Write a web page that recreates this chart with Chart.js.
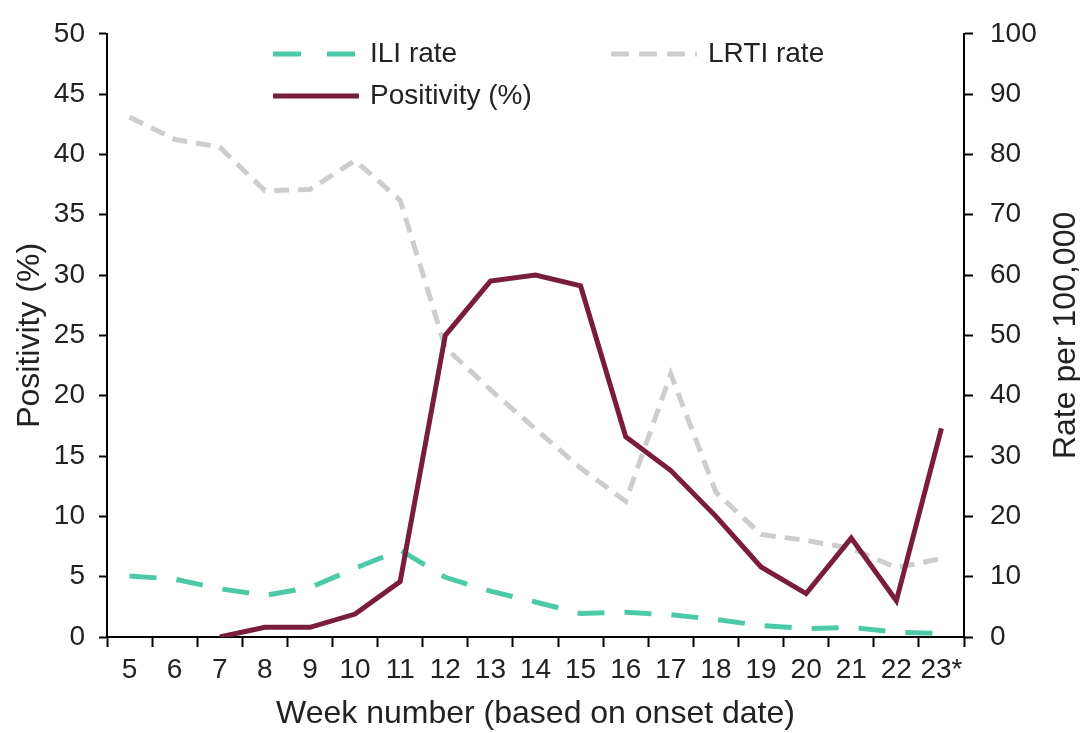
<!DOCTYPE html>
<html lang="en">
<head>
<meta charset="UTF-8">
<title>Positivity, ILI and LRTI rates by week</title>
<script src="https://cdn.jsdelivr.net/npm/chart.js"></script>
<style>
  html, body { margin: 0; padding: 0; background: #fff; }
  .grafico { position: relative; width: 1080px; height: 733px; }
</style>
</head>
<body>
<div class="grafico">
  <canvas id="myChart"></canvas>
</div>
<script>
// week numbers (based on onset date)
const weeks = ['5', '6', '7', '8', '9', '10', '11', '12', '13', '14', '15', '16', '17', '18', '19', '20', '21', '22', '23*'];

// left axis, %
const positivity = [null, null, 0, 0.8, 0.8, 1.9, 4.6, 25.0, 29.5, 30.0, 29.1, 16.6, 13.8, 10.0, 5.8, 3.6, 8.2, 3.0, 17.3];

// right axis, rate per 100,000
const iliRate = [10.1, 9.6, 8.0, 6.9, 8.2, 11.4, 14.4, 9.9, 7.6, 5.8, 3.9, 4.1, 3.7, 2.9, 1.9, 1.4, 1.6, 0.8, 0.6];
const lrtiRate = [86.2, 82.5, 81.2, 74.0, 74.2, 79.0, 72.4, 48.0, 41.0, 34.5, 28.0, 22.5, 43.6, 24.0, 17.0, 16.0, 14.7, 11.5, 13.0];

// axis ticks
const leftTicks = [0, 5, 10, 15, 20, 25, 30, 35, 40, 45, 50];
const rightTicks = [0, 10, 20, 30, 40, 50, 60, 70, 80, 90, 100];

const FONT = '"Liberation Sans", Arial, sans-serif';
const TEXT = '#222';
const colPositivity = '#7a1c3b';
const colIli = '#4cc9a6';
const colLrti = '#cdcdcd';

// legend drawn by hand so it sits in two rows like the original
const legendPlugin = {
  id: 'handLegend',
  afterDraw(chart) {
    const c = chart.ctx;
    const items = [
      { label: 'ILI rate', color: colIli, dash: [28, 26], width: 5, x: 273, y: 54 },
      { label: 'LRTI rate', color: colLrti, dash: [18, 10], width: 5, x: 611, y: 54 },
      { label: 'Positivity (%)', color: colPositivity, dash: [], width: 5, x: 273, y: 96 }
    ];
    c.save();
    items.forEach(it => {
      c.beginPath();
      c.setLineDash(it.dash);
      c.strokeStyle = it.color;
      c.lineWidth = it.width;
      c.moveTo(it.x, it.y);
      c.lineTo(it.x + 86, it.y);
      c.stroke();
      c.setLineDash([]);
      c.fillStyle = TEXT;
      c.font = '28px ' + FONT;
      c.textBaseline = 'middle';
      c.textAlign = 'left';
      c.fillText(it.label, it.x + 97, it.y);
    });

    // right axis title reads bottom to top, same as the left one
    const area = chart.chartArea;
    c.translate(1066, (area.top + area.bottom) / 2);
    c.rotate(-Math.PI / 2);
    c.font = '32px ' + FONT;
    c.textAlign = 'center';
    c.fillText('Rate per 100,000', 0, 0);
    c.restore();
  }
};

const ctx = document.getElementById('myChart');
let myChart = new Chart(ctx, {
  type: 'line',
  data: {
    labels: weeks,
    datasets: [
      {
        label: 'Positivity (%)',
        data: positivity,
        yAxisID: 'y',
        borderColor: colPositivity,
        borderWidth: 5,
        order: 0
      },
      {
        label: 'ILI rate',
        data: iliRate,
        yAxisID: 'y1',
        borderColor: colIli,
        borderWidth: 5,
        borderDash: [27, 20],
        order: 1
      },
      {
        label: 'LRTI rate',
        data: lrtiRate,
        yAxisID: 'y1',
        borderColor: colLrti,
        borderWidth: 5,
        borderDash: [15, 9],
        order: 2
      }
    ]
  },
  options: {
    responsive: true,
    maintainAspectRatio: false,
    animation: false,
    layout: { padding: { top: 29, left: 0, right: 0, bottom: 0 } },
    elements: {
      point: { radius: 0 },
      line: { tension: 0, borderCapStyle: 'butt', borderJoinStyle: 'miter' }
    },
    plugins: {
      legend: { display: false },
      tooltip: { enabled: false }
    },
    scales: {
      x: {
        offset: true,
        afterFit: s => { s.height = 96; },
        grid: { offset: true, drawOnChartArea: false, tickLength: 10, tickColor: '#000', tickWidth: 2 },
        border: { color: '#000', width: 2 },
        ticks: { color: TEXT, font: { family: FONT, size: 28 }, padding: 6, maxRotation: 0, autoSkip: false },
        title: { display: true, text: 'Week number (based on onset date)', color: TEXT, font: { family: FONT, size: 32 }, padding: { top: 0, bottom: 0 } }
      },
      y: {
        position: 'left',
        min: 0,
        max: 50,
        afterFit: s => { s.width = 107; },
        afterBuildTicks: s => { s.ticks = leftTicks.map(v => ({ value: v })); },
        grid: { drawOnChartArea: false, tickLength: 8, tickColor: '#000', tickWidth: 2 },
        border: { color: '#000', width: 2 },
        ticks: { color: TEXT, font: { family: FONT, size: 28 }, padding: 14 },
        title: { display: true, text: 'Positivity (%)', color: TEXT, font: { family: FONT, size: 32 }, padding: { top: 11, bottom: 0 } }
      },
      y1: {
        position: 'right',
        min: 0,
        max: 100,
        afterFit: s => { s.width = 116; },
        afterBuildTicks: s => { s.ticks = rightTicks.map(v => ({ value: v })); },
        grid: { drawOnChartArea: false, tickLength: 9, tickColor: '#000', tickWidth: 2 },
        border: { color: '#000', width: 2 },
        ticks: { color: TEXT, font: { family: FONT, size: 28 }, padding: 17 }
      }
    }
  },
  plugins: [legendPlugin]
});
</script>
</body>
</html>
